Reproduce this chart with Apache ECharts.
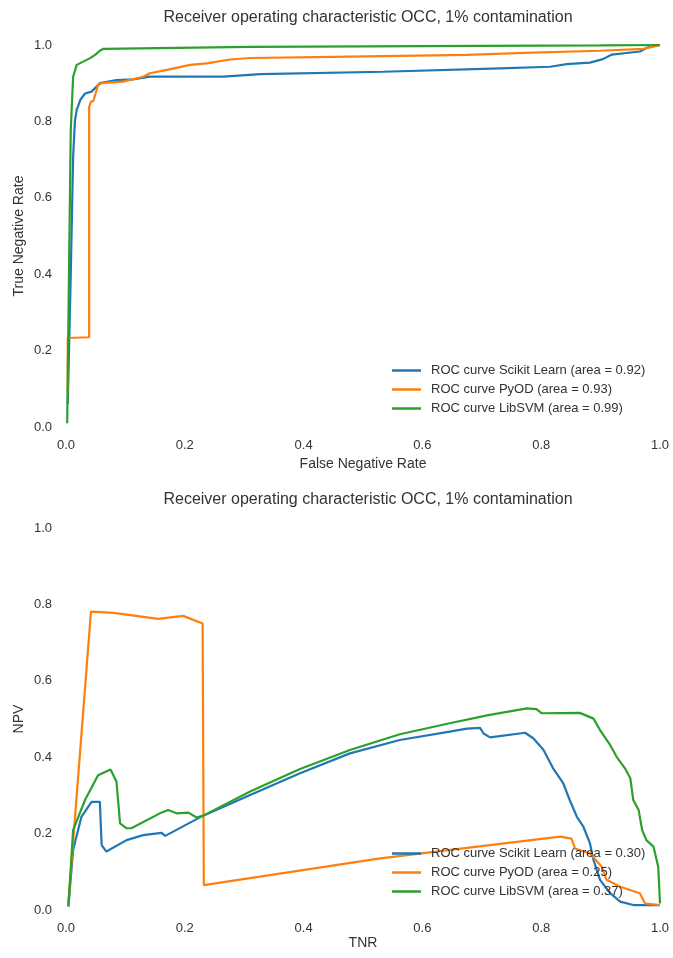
<!DOCTYPE html>
<html>
<head>
<meta charset="utf-8">
<script src="https://cdn.jsdelivr.net/npm/echarts@6/dist/echarts.min.js"></script>
<style>
html,body{margin:0;padding:0;background:#fff;}
#chart{width:673px;height:958px;}
</style>
</head>
<body>
<div id="chart"></div>
<script>
// ---- Data ----
const titleText = 'Receiver operating characteristic OCC, 1% contamination';
const ticks = [0, 0.2, 0.4, 0.6, 0.8, 1.0];

const rocNames = [
  'ROC curve Scikit Learn (area = 0.92)',
  'ROC curve PyOD (area = 0.93)',
  'ROC curve LibSVM (area = 0.99)'
];
const npvNames = [
  'ROC curve Scikit Learn (area = 0.30)',
  'ROC curve PyOD (area = 0.25)',
  'ROC curve LibSVM (area = 0.37)'
];

// Top chart: [False Negative Rate, True Negative Rate]
const sklearnRoc = [[0.003,0.06],[0.008,0.40],[0.012,0.707],[0.015,0.80],[0.018,0.83],[0.024,0.856],[0.032,0.873],[0.043,0.878],[0.057,0.90],[0.085,0.908],[0.113,0.910],[0.141,0.917],[0.265,0.917],[0.327,0.924],[0.534,0.930],[0.731,0.939],[0.815,0.943],[0.843,0.950],[0.882,0.954],[0.904,0.963],[0.919,0.975],[0.966,0.983],[0.978,0.993],[1,1]];
const pyodRoc = [[0.003,0.09],[0.003,0.233],[0.039,0.235],[0.039,0.838],[0.042,0.852],[0.046,0.853],[0.049,0.869],[0.054,0.895],[0.060,0.90],[0.096,0.904],[0.13,0.917],[0.141,0.926],[0.17,0.935],[0.209,0.948],[0.237,0.952],[0.276,0.962],[0.31,0.966],[0.449,0.969],[0.674,0.974],[0.786,0.98],[0.899,0.985],[0.972,0.99],[1,1]];
const libsvmRoc = [[0.002,0.01],[0.005,0.4],[0.008,0.777],[0.012,0.917],[0.018,0.948],[0.04,0.965],[0.049,0.974],[0.057,0.985],[0.063,0.990],[0.31,0.995],[0.6,0.997],[0.9,0.999],[1,1]];

// Bottom chart: [TNR, NPV]
const sklearnNpv = [[0.004,0.009],[0.012,0.157],[0.026,0.244],[0.043,0.283],[0.057,0.283],[0.060,0.170],[0.068,0.153],[0.102,0.183],[0.130,0.196],[0.161,0.202],[0.167,0.194],[0.231,0.247],[0.310,0.301],[0.394,0.358],[0.478,0.410],[0.562,0.445],[0.646,0.467],[0.675,0.475],[0.697,0.477],[0.703,0.462],[0.714,0.452],[0.773,0.464],[0.787,0.449],[0.804,0.419],[0.820,0.371],[0.837,0.332],[0.848,0.288],[0.860,0.244],[0.871,0.218],[0.882,0.175],[0.888,0.131],[0.899,0.079],[0.916,0.044],[0.933,0.022],[0.955,0.013],[1.0,0.013]];
const pyodNpv = [[0.004,0.018],[0.042,0.781],[0.080,0.778],[0.155,0.762],[0.197,0.770],[0.230,0.750],[0.232,0.065],[0.529,0.135],[0.832,0.192],[0.851,0.187],[0.857,0.161],[0.882,0.148],[0.902,0.113],[0.910,0.079],[0.933,0.061],[0.966,0.044],[0.975,0.017],[1.0,0.013]];
const libsvmNpv = [[0.004,0.01],[0.012,0.209],[0.032,0.288],[0.054,0.353],[0.075,0.368],[0.085,0.336],[0.091,0.227],[0.102,0.214],[0.110,0.214],[0.158,0.253],[0.172,0.262],[0.186,0.253],[0.206,0.255],[0.220,0.242],[0.231,0.247],[0.310,0.310],[0.394,0.369],[0.478,0.419],[0.562,0.460],[0.646,0.489],[0.711,0.510],[0.776,0.528],[0.792,0.526],[0.801,0.515],[0.865,0.516],[0.888,0.501],[0.899,0.471],[0.916,0.432],[0.927,0.401],[0.941,0.371],[0.950,0.345],[0.955,0.288],[0.964,0.262],[0.970,0.209],[0.977,0.183],[0.989,0.166],[0.997,0.113],[1.0,0.017]];

// ---- Chart ----
const colors = ['#1f77b4', '#ff7f0e', '#2ca02c'];
const font = 'Liberation Sans, Arial, sans-serif';
const textColor = '#333333';

function xAxis(gridIndex, name, gap) {
  return {
    type: 'value', gridIndex, min: 0, max: 1, interval: 0.2,
    name, nameLocation: 'middle', nameGap: gap, nameMoveOverlap: false,
    nameTextStyle: { fontFamily: font, fontSize: 14, color: textColor },
    axisLine: { show: false }, axisTick: { show: false }, splitLine: { show: false },
    axisLabel: { fontFamily: font, fontSize: 13, color: textColor, margin: 12,
      formatter: v => v.toFixed(1) }
  };
}
function yAxis(gridIndex, name) {
  return {
    type: 'value', gridIndex, min: 0, max: 1, interval: 0.2,
    name, nameLocation: 'middle', nameGap: 40, nameMoveOverlap: false,
    nameTextStyle: { fontFamily: font, fontSize: 14, color: textColor },
    axisLine: { show: false }, axisTick: { show: false }, splitLine: { show: false },
    axisLabel: { fontFamily: font, fontSize: 13, color: textColor, margin: 14,
      formatter: v => v.toFixed(1) }
  };
}
function line(name, data, idx, grid) {
  return {
    type: 'line', name, data, xAxisIndex: grid, yAxisIndex: grid,
    showSymbol: false, symbol: 'none', clip: false, animation: false,
    lineStyle: { width: 2.2, color: colors[idx] }, itemStyle: { color: colors[idx] }
  };
}
function legend(names, top) {
  return {
    data: names, orient: 'vertical', left: 392, top,
    icon: 'rect', itemWidth: 29, itemHeight: 2.5, itemGap: 6,
    textStyle: { fontFamily: font, fontSize: 13, color: textColor, padding: [0,0,0,5] },
    padding: 0
  };
}

const chart = echarts.init(document.getElementById('chart'), null, { renderer: 'canvas' });
chart.setOption({
  backgroundColor: '#ffffff',
  animation: false,
  title: [
    { text: titleText, left: 363, textAlign: 'center', top: 5,
      textStyle: { fontFamily: font, fontSize: 16, fontWeight: 'normal', color: textColor } },
    { text: titleText, left: 363, textAlign: 'center', top: 487,
      textStyle: { fontFamily: font, fontSize: 16, fontWeight: 'normal', color: textColor } }
  ],
  grid: [
    { left: 66, right: 13, top: 45, height: 382 },
    { left: 66, right: 13, top: 528, height: 382 }
  ],
  legend: [legend(rocNames, 364), legend(npvNames, 847)],
  xAxis: [xAxis(0, 'False Negative Rate', 30), xAxis(1, 'TNR', 26)],
  yAxis: [yAxis(0, 'True Negative Rate'), yAxis(1, 'NPV')],
  series: [
    line(rocNames[0], sklearnRoc, 0, 0),
    line(rocNames[1], pyodRoc, 1, 0),
    line(rocNames[2], libsvmRoc, 2, 0),
    line(npvNames[0], sklearnNpv, 0, 1),
    line(npvNames[1], pyodNpv, 1, 1),
    line(npvNames[2], libsvmNpv, 2, 1)
  ]
});
</script>
</body>
</html>
